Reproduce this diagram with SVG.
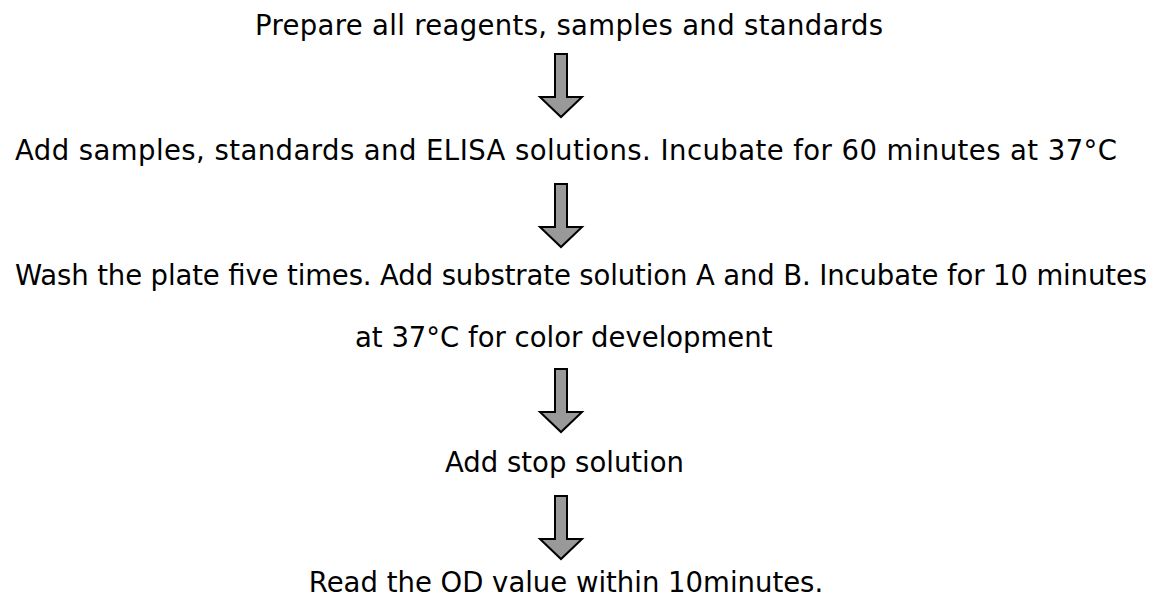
<svg xmlns="http://www.w3.org/2000/svg" width="1161" height="599" viewBox="0 0 1161 599">
<style>
text{font-family:"DejaVu Sans",Verdana,sans-serif;font-size:27.5px;fill:#000}
.c{text-anchor:middle}
.arrow{fill:#999999;stroke:#000;stroke-width:2;stroke-linejoin:miter}
</style>
<defs>
<path id="arr" class="arrow" d="M-6,0 H6 V43 H21 L0,63 L-21,43 H-6 Z"/>
</defs>
<rect width="1161" height="599" fill="#fff"/>
<g id="step1"><text x="255" y="35" textLength="628" lengthAdjust="spacing">Prepare all reagents, samples and standards</text></g>
<g id="step2"><text x="15" y="160" textLength="1102" lengthAdjust="spacing">Add samples, standards and ELISA solutions. Incubate for 60 minutes at 37°C</text></g>
<g id="step3"><text x="15" y="285" textLength="1132" lengthAdjust="spacing">Wash the plate five times. Add substrate solution A and B. Incubate for 10 minutes</text><text x="355" y="347">at 37°C for color development</text></g>
<g id="step4"><text x="445" y="472">Add stop solution</text></g>
<g id="step5"><text class="c" x="566" y="592">Read the OD value within 10minutes.</text></g>
<g id="connectors">
<use href="#arr" x="561" y="54"/>
<use href="#arr" x="561" y="184"/>
<use href="#arr" x="561" y="369"/>
<use href="#arr" x="561" y="496"/>
</g>
</svg>
